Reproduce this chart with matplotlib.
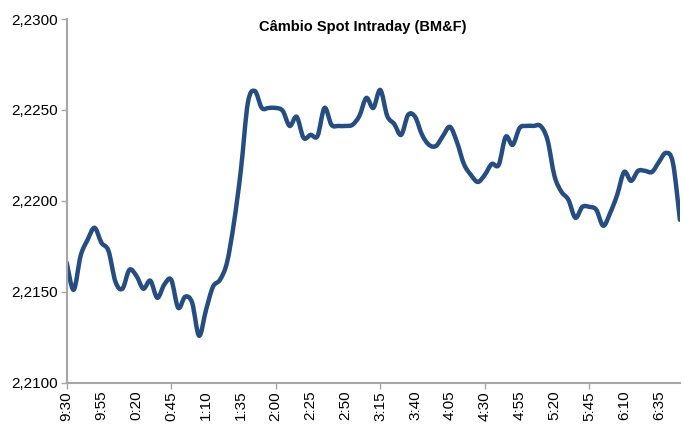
import numpy as np
import matplotlib.pyplot as plt
from matplotlib.path import Path
from matplotlib.patches import PathPatch
from matplotlib.ticker import FuncFormatter

plt.rcParams['font.family'] = ['Liberation Sans', 'DejaVu Sans']

# cotacao a cada 5 minutos, 9:30 ate 6:50
cotacao = [2.21660, 2.21511, 2.21698, 2.21786, 2.21852, 2.21769, 2.21725, 2.21555,
           2.21517, 2.21621, 2.21588, 2.21517, 2.21561, 2.21467, 2.21539, 2.21566,
           2.21412, 2.21473, 2.21440, 2.21258, 2.21401, 2.21528, 2.21566, 2.21660,
           2.21879, 2.22170, 2.22539, 2.22604, 2.22511, 2.22511, 2.22511, 2.22495,
           2.22412, 2.22462, 2.22346, 2.22363, 2.22357, 2.22511, 2.22418, 2.22412,
           2.22412, 2.22418, 2.22467, 2.22566, 2.22511, 2.22610, 2.22467, 2.22423,
           2.22363, 2.22473, 2.22462, 2.22363, 2.22308, 2.22302, 2.22357, 2.22407,
           2.22324, 2.22203, 2.22143, 2.22104, 2.22143, 2.22203, 2.22198, 2.22352,
           2.22308, 2.22401, 2.22412, 2.22412, 2.22412, 2.22335, 2.22137, 2.22050,
           2.22006, 2.21907, 2.21967, 2.21967, 2.21951, 2.21863, 2.21934, 2.22033,
           2.22159, 2.22110, 2.22165, 2.22165, 2.22159, 2.22214, 2.22264, 2.22209,
           2.21896]

rotulos = ['9:30', '9:55', '0:20', '0:45', '1:10', '1:35', '2:00', '2:25', '2:50',
           '3:15', '3:40', '4:05', '4:30', '4:55', '5:20', '5:45', '6:10', '6:35']

y = np.array(cotacao)
x = np.arange(len(y))

# linha suavizada (estilo Excel): Catmull-Rom convertido em Bezier cubica
verts = [(x[0], y[0])]
codes = [Path.MOVETO]
n = len(y)
for i in range(n - 1):
    p0 = np.array([x[max(i - 1, 0)], y[max(i - 1, 0)]])
    p1 = np.array([x[i], y[i]])
    p2 = np.array([x[i + 1], y[i + 1]])
    p3 = np.array([x[min(i + 2, n - 1)], y[min(i + 2, n - 1)]])
    c1 = p1 + (p2 - p0) / 6.0
    c2 = p2 - (p3 - p1) / 6.0
    verts += [tuple(c1), tuple(c2), tuple(p2)]
    codes += [Path.CURVE4, Path.CURVE4, Path.CURVE4]

fig = plt.figure(figsize=(6.84, 4.32), dpi=100)
ax = fig.add_axes([0.0975, 0.1141, 0.8965, 0.8419])

ax.add_patch(PathPatch(Path(verts, codes), facecolor='none', edgecolor='#254D82',
                       lw=3.2, capstyle='round', joinstyle='round'))

ax.set_xlim(0, n - 1)
ax.set_ylim(2.2100, 2.2300)
ax.set_yticks(np.arange(2.2100, 2.23001, 0.0050))
ax.yaxis.set_major_formatter(FuncFormatter(lambda v, p: f'{v:.4f}'.replace('.', ',')))

pos = np.arange(0, n, 5)[:len(rotulos)]
ax.set_xticks(np.arange(0, n, 15))
ax.set_xticklabels([rotulos[i // 5] for i in range(0, n, 15)], rotation=90)
ax.set_xticks([p for p in pos if p % 15 != 0], minor=True)
ax.set_xticklabels([rotulos[i] for i, p in enumerate(pos) if p % 15 != 0],
                   minor=True, rotation=90)

for s in ['top', 'right']:
    ax.spines[s].set_visible(False)
for s in ['left', 'bottom']:
    ax.spines[s].set_color('#A6A6A6')
    ax.spines[s].set_linewidth(1.5)
ax.tick_params(axis='both', which='major', colors='#A6A6A6', labelcolor='black',
               labelsize=11, length=4, width=1)
ax.tick_params(axis='x', which='minor', length=0, labelsize=11, pad=5.5)
ax.tick_params(axis='x', which='major', pad=2)
ax.tick_params(axis='y', pad=2)

fig.text(363 / 684, 0.9375, 'Câmbio Spot Intraday (BM&F)', ha='center', va='center',
         fontsize=10.5, fontweight='bold',
         family=['Liberation Sans Narrow', 'Liberation Sans'])

fig.savefig('out.png', dpi=100)
